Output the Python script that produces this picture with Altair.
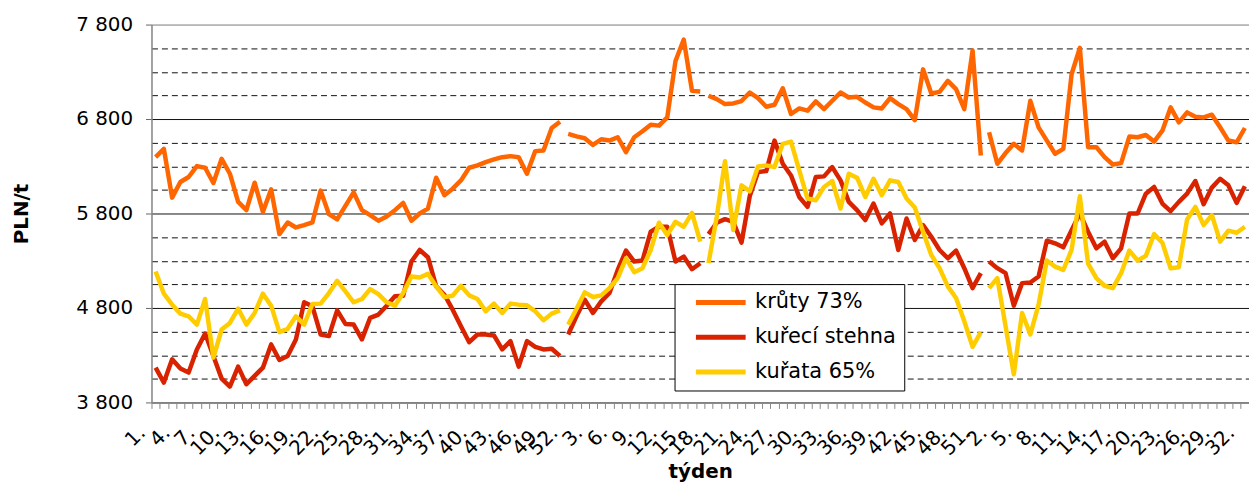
import json
import altair as alt
import pandas as pd

series_names = ["krůty 73%", "kuřecí stehna", "kuřata 65%"]
series_colors = ["#FF6600", "#D92200", "#FFCC00"]

# week labels for three consecutive years (52 + 52 + 32 weeks)
week_labels = ([f"{w}." for w in range(1, 53)] + [f"{w}." for w in range(1, 53)]
               + [f"{w}." for w in range(1, 33)])

krruty = [6396, 6484, 5968, 6133, 6186, 6302, 6284, 6123, 6379, 6221,
          5923, 5835, 6126, 5817, 6056, 5582, 5705, 5652, 5677, 5705,
          6042, 5793, 5737, 5881, 6024, 5835, 5782, 5723, 5768, 5835,
          5912, 5723, 5800, 5852, 6179, 5993, 6063, 6150, 6284, 6309,
          6344, 6372, 6396, 6407, 6396, 6221, 6460, 6467, 6705, 6772,
          None, 6642, 6617, 6596, 6526, 6586, 6572, 6607, 6449, 6607,
          6670, 6740, 6730, 6817, 7414, 7642, 7098, 7091, None, 7046,
          7010, 6958, 6965, 6990, 7081, 7021, 6930, 6951, 7126, 6853,
          6912, 6888, 6986, 6905, 6993, 7081, 7028, 7035, 6975, 6923,
          6912, 7021, 6958, 6905, 6789, 7326, 7070, 7088, 7203, 7116,
          6905, 7526, 6414, None, 6660, 6326, 6440, 6537, 6467, 6993,
          6712, 6572, 6432, 6484, 7274, 7554, 6502, 6502, 6396, 6319,
          6333, 6614, 6607, 6631, 6561, 6677, 6923, 6765, 6870, 6824,
          6817, 6846, 6712, 6572, 6554, 6705]

stehna = [4168, 4010, 4256, 4158, 4116, 4361, 4530, 4291, 4052, 3968,
          4179, 3993, 4081, 4168, 4414, 4249, 4291, 4467, 4860, 4817,
          4519, 4502, 4775, 4631, 4624, 4467, 4695, 4730, 4824, 4923,
          4930, 5291, 5414, 5337, 5028, 4940, 4782, 4607, 4438, 4519,
          4519, 4509, 4361, 4449, 4179, 4449, 4389, 4361, 4368, 4291,
          None, 4519, 4712, 4888, 4747, 4870, 4958, 5203, 5407, 5291,
          5302, 5607, 5660, 5660, 5291, 5344, 5210, 5274, None, 5582,
          5702, 5740, 5712, 5491, 5985, 6238, 6249, 6572, 6326, 6203,
          5975, 5870, 6186, 6193, 6291, 6151, 5923, 5835, 5730, 5905,
          5695, 5800, 5414, 5747, 5519, 5677, 5554, 5414, 5326, 5407,
          5221, 5010, 5168, None, 5291, 5221, 5168, 4824, 5063, 5070,
          5133, 5512, 5484, 5442, 5624, 5800, 5607, 5431, 5502, 5326,
          5431, 5800, 5800, 6010, 6081, 5905, 5825, 5923, 6010, 6144,
          5898, 6074, 6168, 6098, 5912, 6088]

kurata = [5186, 4951, 4835, 4740, 4712, 4624, 4895, 4274, 4572, 4642,
          4793, 4624, 4747, 4951, 4824, 4544, 4579, 4712, 4624, 4842,
          4846, 4958, 5088, 4975, 4860, 4895, 5000, 4947, 4860, 4824,
          4958, 5133, 5123, 5161, 5028, 4915, 4930, 5035, 4933, 4895,
          4765, 4846, 4747, 4846, 4835, 4828, 4765, 4670, 4740, 4775,
          None, 4624, 4789, 4965, 4916, 4933, 5010, 5116, 5326, 5179,
          5221, 5414, 5702, 5572, 5712, 5660, 5807, 5502, None, 5274,
          5765, 6354, 5625, 6098, 6035, 6298, 6309, 6291, 6537, 6561,
          6256, 5958, 5940, 6081, 6144, 5853, 6221, 6179, 5975, 6168,
          5993, 6151, 6133, 5958, 5863, 5607, 5361, 5221, 5028, 4905,
          4659, 4389, 4544, None, 5010, 5116, 4607, 4098, 4747, 4519,
          4835, 5302, 5238, 5203, 5414, 5982, 5270, 5116, 5035, 5010,
          5168, 5407, 5302, 5351, 5582, 5491, 5221, 5231, 5737, 5870,
          5677, 5782, 5502, 5618, 5596, 5660]

y_ticks = list(range(3800, 7801, 250))

rows = []
for name, vals in zip(series_names, [krruty, stehna, kurata]):
    seg = 0
    for i, v in enumerate(vals):
        if v is None:
            seg += 1
            continue
        rows.append({"idx": i + 1, "series": name, "value": v, "seg": f"{name}-{seg}"})
df = pd.DataFrame(rows)

shown = [lab if i % 3 == 0 else "" for i, lab in enumerate(week_labels)]
label_expr = json.dumps(shown, ensure_ascii=False) + "[datum.value - 1]"

FONT = "DejaVu Sans"

chart = alt.Chart(df).mark_line(strokeWidth=4.5, strokeJoin="round").encode(
    x=alt.X("idx:O",
            scale=alt.Scale(type="band", paddingInner=0, paddingOuter=0),
            bandPosition=0.5,
            axis=alt.Axis(title="týden", titleFontSize=20, titleFontWeight="bold",
                          titleFont=FONT, titleY=76, titleBaseline="alphabetic",
                          labelExpr=label_expr, labelAngle=315, labelAlign="right",
                          labelBaseline="top", labelFontSize=20, labelFont=FONT,
                          labelColor="black", labelOverlap=False, labelPadding=14,
                          labelOffset=-21, tickBand="extent", tickSize=6,
                          tickColor="#888888", domainColor="#888888", domainWidth=1.5,
                          grid=False)),
    y=alt.Y("value:Q",
            scale=alt.Scale(domain=[3800, 7800], nice=False, zero=False),
            axis=alt.Axis(title="PLN/t", titleFontSize=20, titleFontWeight="bold",
                          titleFont=FONT, titleX=-125, titleY=190, titleAngle=270,
                          titleBaseline="alphabetic", titleAlign="center",
                          values=y_ticks,
                          labelExpr="datum.value % 1000 == 800 ? replace(format(datum.value, ','), ',', ' ') : ''",
                          labelFontSize=20, labelFont=FONT, labelColor="black",
                          labelPadding=13, tickSize=6,
                          tickColor="#666666",
                          tickOpacity={"condition": {"test": "datum.value % 1000 == 800", "value": 1}, "value": 0},
                          domainColor="#888888", domainWidth=1.5,
                          grid=True,
                          gridDash={"condition": {"test": "datum.value % 1000 != 800", "value": [6, 4]}, "value": []},
                          gridColor={"condition": {"test": "datum.value == 7800", "value": "#8c8c8c"}, "value": "#111111"},
                          gridWidth=1)),
    color=alt.Color("series:N",
                    scale=alt.Scale(domain=series_names, range=series_colors),
                    legend=alt.Legend(title=None, orient="none", legendX=526, legendY=261,
                                      direction="vertical",
                                      symbolType="stroke", symbolSize=2500,
                                      symbolStrokeWidth=5, symbolOffset=11,
                                      clipHeight=21,
                                      labelOffset=7, labelFontSize=21, labelFont=FONT,
                                      labelColor="black", labelLimit=400,
                                      padding=8, rowPadding=13,
                                      strokeColor="black", fillColor="white")),
    detail="seg:N",
).properties(
    width=1103.7, height=380,
    padding={"left": 144.3, "top": 15.3, "right": 0, "bottom": 84},
    autosize=alt.AutoSizeParams(type="none"),
).configure_view(stroke=None).configure(font=FONT)

chart.save("out.html", embed_options={"renderer": "svg", "actions": False})
